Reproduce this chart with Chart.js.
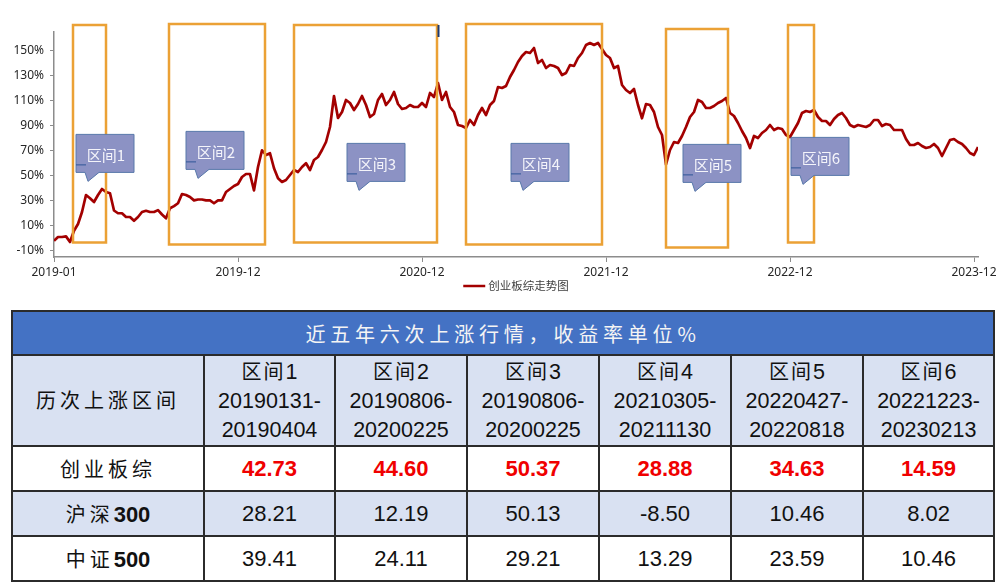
<!DOCTYPE html>
<html><head><meta charset="utf-8">
<script src="https://cdn.jsdelivr.net/npm/chart.js@4.4.1/dist/chart.umd.min.js"></script>
<style>
html,body{margin:0;padding:0;background:#fff;}
body{width:1003px;height:586px;overflow:hidden;position:relative;}
#c{position:absolute;left:0;top:0;}
#tbl{position:absolute;left:11px;top:310px;border-collapse:collapse;table-layout:fixed;width:982px;
  font-family:"Liberation Sans","Noto Sans CJK SC",sans-serif;color:#111;}
#tbl td{border:2px solid #2b2b2b;text-align:center;vertical-align:middle;padding:0;overflow:hidden;white-space:nowrap;}
#tbl tr.title td{background:#4472C4;color:#f4f4f4;font-family:"Noto Sans CJK SC",sans-serif;font-size:20px;letter-spacing:4.8px;height:42px;}
#tbl tr.hdr td{background:#D9E1F2;font-size:21.5px;line-height:29px;height:88px;}
#tbl tr.r1 td{background:#fff;height:43px;font-size:22px;}
#tbl tr.r2 td{background:#D9E1F2;height:43px;font-size:22px;}
#tbl tr.r3 td{background:#fff;height:43px;font-size:22px;}
#tbl .cn{font-family:"Noto Sans CJK SC",sans-serif;letter-spacing:4px;font-size:20px;}
#tbl .cn2{font-family:"Noto Sans CJK SC",sans-serif;letter-spacing:2px;font-size:20px;}
#tbl .red{color:#F00000;font-weight:bold;}
#tbl b{font-weight:bold;}
</style>
</head><body>
<canvas id="c" width="1003" height="300"></canvas>
<table id="tbl"></table>
<script>
// ---- chart data ----
const seriesName = '创业板综走势图';
const xTickPos = [0, 46, 92, 138, 184, 230];
const xTickLabels = ['2019-01', '2019-12', '2020-12', '2021-12', '2022-12', '2023-12'];
const yTickValues = [-10, 10, 30, 50, 70, 90, 110, 130, 150];
const values = [
  -2, 1, 1, 1.5, -3, 6, 11.4, 21, 34.6, 32,
  29, 34.6, 39.4, 37, 36, 22.2, 20, 20, 17, 17,
  14, 17, 21, 22, 21, 21, 22.5, 19, 16, 24,
  25.7, 28, 35.4, 34.6, 33, 30.3, 31, 31, 30.3, 30.3,
  28, 30.3, 30.3, 37, 39.4, 41.8, 43.4, 49, 51.4, 51.4,
  38.3, 57, 70.4, 66.6, 68, 56, 48, 45, 46.6, 50.6,
  54.6, 53, 57, 60, 54.6, 62.6, 65, 70.6, 77, 89,
  113.8, 96.2, 101, 110.6, 108.2, 102.6, 107.4, 113.8, 106.6, 97,
  99.4, 110.6, 115.4, 106.6, 110.6, 117, 107.4, 103.4, 104.2, 106.6,
  105, 105, 108.2, 105, 116.2, 113, 124.2, 110.6, 117, 105,
  101, 90.6, 89.8, 88.2, 94.6, 90.6, 98.6, 104.2, 98.6, 106.6,
  109.8, 121, 120.2, 121.8, 129, 134.6, 141, 145.8, 149, 148.2,
  152.2, 140.2, 142.6, 136.2, 138.6, 137.8, 136.2, 130.6, 132.2, 138.6,
  137.8, 144.2, 148.2, 154.6, 156.2, 154.6, 156.2, 151.4, 146.6, 144.2,
  136.2, 137.8, 122.6, 118.6, 116.2, 119.4, 106.6, 96, 107.4, 106.6,
  101, 89, 82.6, 59, 70.6, 77, 76.2, 81.8, 89, 97,
  101, 110.6, 109, 104.2, 104.2, 105.8, 108.2, 109.8, 112.2, 100.2,
  97.8, 92.2, 85.8, 80.2, 72.2, 81.8, 80.2, 84.2, 86.6, 90.6,
  86.6, 88.2, 87.4, 82.6, 81, 86.6, 92.2, 100.2, 101.8, 101,
  102.6, 97, 93.8, 93.8, 90.6, 95.4, 98.6, 100.2, 96.2, 90.6,
  89, 90.6, 89.8, 89, 90.6, 94.6, 94.6, 89.8, 91.4, 90.6,
  86.6, 86.6, 86.6, 79.4, 74.6, 74.6, 76.2, 73.8, 72.2, 73,
  75.4, 72.2, 65.8, 72.2, 78.6, 79.4, 77, 75.4, 72.2, 68.2,
  66.6, 73
];
// highlighted intervals (x in series index, y in %)
const intervalLabels = ['区间1', '区间2', '区间3', '区间4', '区间5', '区间6'];
const boxStart = [4.75, 28.75, 60, 103, 153, 183.5];
const boxEnd = [13, 52.75, 95.75, 137, 168.5, 190];
const boxTop = [170.6, 171.4, 170.6, 171.4, 167.4, 170.6];
const boxBottom = [-3.4, -5, -3.4, -5, -7.4, -3.4];
const calloutTipX = [8.5, 36, 76.25, 117.25, 160.25, 187.25];
const calloutTipY = [45.5, 47.9, 38.3, 38.3, 37.5, 43.1];

// ---- table data ----
const tableTitle = '近五年六次上涨行情，收益率单位%';
const headerLabel = '历次上涨区间';
const intervalStartDates = ['20190131', '20190806', '20190806', '20210305', '20220427', '20221223'];
const intervalEndDates = ['20190404', '20200225', '20200225', '20211130', '20220818', '20230213'];
const rowNamesCn = ['创业板综', '沪深', '中证'];
const rowNamesNum = ['', '300', '500'];
const cybReturns = [42.73, 44.60, 50.37, 28.88, 34.63, 14.59];
const hs300Returns = [28.21, 12.19, 50.13, -8.50, 10.46, 8.02];
const zz500Returns = [39.41, 24.11, 29.21, 13.29, 23.59, 10.46];

// ---- build table ----
(function(){
  const t = document.getElementById('tbl');
  const colW = [192, 131, 132, 132, 132, 132, 131];
  let h = '<colgroup>' + colW.map(w => '<col style="width:' + w + 'px">').join('') + '</colgroup>';
  h += '<tr class="title"><td colspan="7">' + tableTitle + '</td></tr>';
  h += '<tr class="hdr"><td><span class="cn">' + headerLabel + '</span></td>';
  for (let i = 0; i < intervalLabels.length; i++) {
    h += '<td><span class="cn2">' + intervalLabels[i].slice(0, 2) + '</span>' + intervalLabels[i].slice(2) +
      '<br>' + intervalStartDates[i] + '-<br>' + intervalEndDates[i] + '</td>';
  }
  h += '</tr>';
  const rows = [cybReturns, hs300Returns, zz500Returns];
  rows.forEach((r, k) => {
    h += '<tr class="r' + (k + 1) + '"><td><span class="cn">' + rowNamesCn[k] + '</span>' +
      (rowNamesNum[k] ? '<b>' + rowNamesNum[k] + '</b>' : '') + '</td>';
    r.forEach(v => { h += '<td' + (k === 0 ? ' class="red"' : '') + '>' + v.toFixed(2) + '</td>'; });
    h += '</tr>';
  });
  t.innerHTML = h;
})();

// ---- overlay plugin: interval boxes, callouts, legend ----
const overlay = {
  id: 'overlay',
  afterDatasetsDraw(chart) {
    const ctx = chart.ctx, x = chart.scales.x, y = chart.scales.y;
    ctx.save();
    ctx.strokeStyle = '#EBA135';
    ctx.lineWidth = 2.5;
    for (let i = 0; i < boxStart.length; i++) {
      const l = x.getPixelForValue(boxStart[i]), r = x.getPixelForValue(boxEnd[i]);
      const t = y.getPixelForValue(boxTop[i]), b = y.getPixelForValue(boxBottom[i]);
      ctx.strokeRect(l, t, r - l, b - t);
      if (i === 2) {
        ctx.save();
        ctx.strokeStyle = '#1F3A70'; ctx.lineWidth = 2;
        ctx.beginPath(); ctx.moveTo(r + 1.5, t); ctx.lineTo(r + 1.5, t + 12); ctx.stroke();
        ctx.restore();
      }
    }
    // callouts
    const cw = 58, ch = 38;
    for (let i = 0; i < calloutTipX.length; i++) {
      const tx = x.getPixelForValue(calloutTipX[i]), ty = y.getPixelForValue(calloutTipY[i]);
      const left = tx - 12, bottom = ty - 9, top = bottom - ch;
      ctx.beginPath();
      ctx.moveTo(left, top);
      ctx.lineTo(left + cw, top);
      ctx.lineTo(left + cw, bottom);
      ctx.lineTo(tx + 11, bottom);
      ctx.lineTo(tx, ty);
      ctx.lineTo(tx - 3, bottom);
      ctx.lineTo(left, bottom);
      ctx.closePath();
      ctx.fillStyle = '#8C92C4';
      ctx.fill();
      ctx.strokeStyle = '#5878AA';
      ctx.lineWidth = 1;
      ctx.stroke();
      ctx.strokeStyle = '#2F5597';
      ctx.beginPath(); ctx.moveTo(left, bottom - 7.5); ctx.lineTo(left + 10, bottom - 7.5); ctx.stroke();
      ctx.fillStyle = '#F4F4FA';
      ctx.font = '15px "Noto Sans CJK SC"';
      ctx.textAlign = 'center';
      ctx.textBaseline = 'middle';
      ctx.fillText(intervalLabels[i], left + cw / 2 + 1, top + 21);
    }
    // legend
    const ds = chart.data.datasets[0];
    ctx.font = '11.5px "Noto Sans CJK SC"';
    const tw = ctx.measureText(ds.label).width;
    const total = 22 + 3 + tw;
    const cx = (chart.chartArea.left + chart.chartArea.right) / 2;
    const sx = cx - total / 2, ly = 286;
    ctx.strokeStyle = ds.borderColor; ctx.lineWidth = 2.5;
    ctx.beginPath(); ctx.moveTo(sx, ly); ctx.lineTo(sx + 22, ly); ctx.stroke();
    ctx.fillStyle = '#404040';
    ctx.textAlign = 'left'; ctx.textBaseline = 'middle';
    ctx.fillText(ds.label, sx + 25, ly);
    ctx.restore();
  }
};

const axisColor = '#8c8c8c';
new Chart(document.getElementById('c'), {
  type: 'line',
  data: {
    datasets: [{
      label: seriesName,
      data: values.map((v, i) => ({ x: i, y: v })),
      borderColor: '#A30000',
      borderWidth: 2.7,
      pointRadius: 0,
      tension: 0,
      borderJoinStyle: 'round',
      fill: false
    }]
  },
  options: {
    responsive: false,
    animation: false,
    devicePixelRatio: 1,
    layout: { padding: { left: 0, right: 25, top: 32, bottom: 18 } },
    plugins: { legend: { display: false }, tooltip: { enabled: false } },
    scales: {
      x: {
        type: 'linear', min: 0, max: 231,
        afterBuildTicks: s => { s.ticks = xTickPos.map(v => ({ value: v })); },
        afterFit: s => { s.height = 25; },
        grid: { drawOnChartArea: false, drawTicks: true, tickLength: 5, color: axisColor, lineWidth: 1 },
        border: { color: axisColor, width: 1.5 },
        ticks: {
          autoSkip: false, maxRotation: 0, padding: 3, color: '#262626',
          font: { family: 'Noto Sans', size: 12 },
          callback: v => xTickLabels[xTickPos.indexOf(v)]
        }
      },
      y: {
        min: -15, max: 165,
        afterBuildTicks: s => { s.ticks = yTickValues.map(v => ({ value: v })); },
        afterFit: s => { s.width = 54; },
        grid: { drawOnChartArea: false, drawTicks: true, tickLength: 4, color: axisColor, lineWidth: 1 },
        border: { color: axisColor, width: 1.5 },
        ticks: {
          padding: 6, color: '#262626',
          font: { family: 'Noto Sans', size: 12 },
          callback: v => v + '%'
        }
      }
    }
  },
  plugins: [overlay]
});
</script>
</body></html>
